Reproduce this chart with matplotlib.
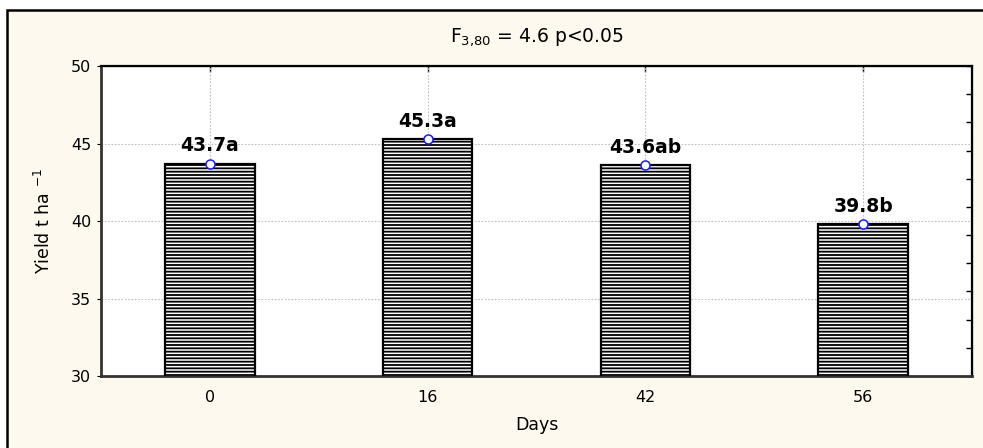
import numpy as np
import matplotlib
matplotlib.use("Agg")
import matplotlib.pyplot as plt
from matplotlib.patches import Rectangle

# ---- data ----
days = ["0", "16", "42", "56"]
yield_means = [43.7, 45.3, 43.6, 39.8]
letters = ["a", "a", "ab", "b"]
title_text = r"F$_{3{,}80}$ = 4.6 p<0.05"
y_ticks = [30, 35, 40, 45, 50]

plt.rcParams['font.family'] = ['DejaVu Sans']
plt.rcParams['hatch.linewidth'] = 1.3

W, H = 983, 448
fig = plt.figure(figsize=(W / 100, H / 100), dpi=100, facecolor="white")

# outer cream panel with black frame (extends beyond right/bottom edges)
bg = Rectangle((7 / W, -0.05), 1.1, 1 - 10 / H + 0.05, transform=fig.transFigure,
               facecolor="#fdf9ee", edgecolor="black", linewidth=1.8, zorder=-10)
fig.patches.append(bg)

ax = fig.add_axes([101 / W, 1 - 376 / H, (972 - 101) / W, (376 - 66) / H])
ax.set_facecolor("white")

x = np.arange(len(days))
ax.bar(x, yield_means, width=0.41, bottom=0, color="white", edgecolor="black",
       hatch="-----", linewidth=1.6, zorder=3)
ax.plot(x, yield_means, linestyle="none", marker="o", markersize=6.5,
        markerfacecolor="white", markeredgecolor="#1a1aff", markeredgewidth=1.1, zorder=5)

for xi, v, lt in zip(x, yield_means, letters):
    ax.annotate(f"{v:.1f}{lt}", (xi, v), xytext=(0, 6), textcoords="offset points",
                ha="center", va="bottom", fontsize=13.5, fontweight="bold", zorder=6)

ax.set_xlim(-0.5, len(days) - 0.5)
ax.set_ylim(30, 50)
ax.set_yticks(y_ticks)
ax.set_xticks(x)
ax.set_xticklabels(days)
ax.tick_params(axis="y", direction="out", length=3, labelsize=11.5, pad=4)
ax.tick_params(axis="x", length=0, labelsize=11.5, pad=10)

ax.grid(True, axis="both", linestyle=(0, (1.5, 1.5)), color="#c0c0c0", linewidth=0.8, zorder=0)
ax.set_axisbelow(True)

for s in ["left", "bottom"]:
    ax.spines[s].set_color("#333333")
    ax.spines[s].set_linewidth(2.0)
for s in ["top", "right"]:
    ax.spines[s].set_color("black")
    ax.spines[s].set_linewidth(1.6)

# top ticks (inward) at categories
sec_x = ax.secondary_xaxis("top")
sec_x.set_xticks(x)
sec_x.tick_params(direction="in", length=4, labeltop=False, width=1)
# right ticks (inward), 11 intervals
sec_y = ax.secondary_yaxis("right")
sec_y.set_yticks(np.linspace(30, 50, 12))
sec_y.tick_params(direction="in", length=4, labelright=False, width=1)

ax.set_xlabel("Days", fontsize=12.5, labelpad=8)
ax.set_ylabel(r"Yield t ha $^{-1}$", fontsize=12.5, labelpad=12)
fig.text((101 + 972) / 2 / W, 1 - 37 / H, title_text, ha="center", va="center", fontsize=13.5)

fig.savefig("out.png", dpi=100, facecolor=fig.get_facecolor())
